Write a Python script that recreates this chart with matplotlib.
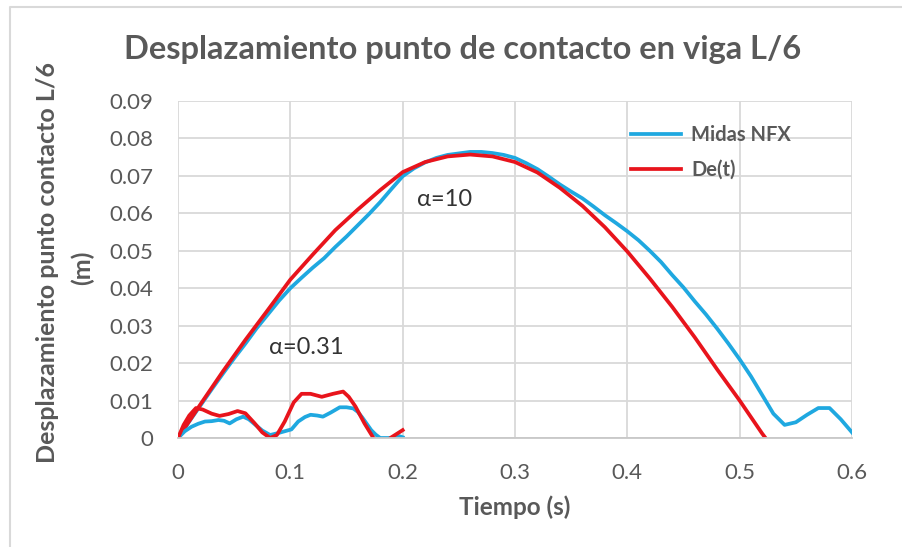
import numpy as np
import matplotlib
matplotlib.use('Agg')
import matplotlib.pyplot as plt
from matplotlib.lines import Line2D

plt.rcParams['font.family'] = ['Lato', 'DejaVu Sans']

# alpha = 10, large curves
t_nfx_10 = [0.00, 0.01, 0.02, 0.03, 0.04, 0.05, 0.06, 0.07, 0.08, 0.09,
            0.10, 0.11, 0.12, 0.13, 0.14, 0.15, 0.16, 0.17, 0.18, 0.19,
            0.20, 0.21, 0.22, 0.23, 0.24, 0.25, 0.26, 0.27, 0.28, 0.29,
            0.30, 0.31, 0.32, 0.33, 0.34, 0.35, 0.36, 0.37, 0.38, 0.39,
            0.40, 0.41, 0.42, 0.43, 0.44, 0.45, 0.46, 0.47, 0.48, 0.49,
            0.50, 0.51, 0.52, 0.53, 0.54, 0.55, 0.56, 0.57, 0.58, 0.59, 0.60]
d_nfx_10 = [0.0, 0.0044, 0.0087, 0.0130, 0.0172, 0.0213, 0.0252, 0.0293, 0.0330, 0.0367,
            0.0400, 0.0428, 0.0455, 0.0480, 0.0510, 0.0538, 0.0568, 0.0598, 0.0630, 0.0665,
            0.0699, 0.0720, 0.0736, 0.0748, 0.0756, 0.0760, 0.0764, 0.0764, 0.0761, 0.0756,
            0.0748, 0.0734, 0.0718, 0.0698, 0.0677, 0.0658, 0.0640, 0.0618, 0.0595, 0.0574,
            0.0552, 0.0528, 0.0500, 0.0470, 0.0435, 0.0402, 0.0365, 0.0330, 0.0292, 0.0252,
            0.0210, 0.0165, 0.0115, 0.0065, 0.0035, 0.0042, 0.0062, 0.0080, 0.0080, 0.0050, 0.0015]

t_de_10 = [0.00, 0.02, 0.04, 0.06, 0.08, 0.10, 0.12, 0.14, 0.16, 0.18,
           0.20, 0.22, 0.24, 0.26, 0.28, 0.30, 0.32, 0.34, 0.36, 0.38,
           0.40, 0.42, 0.44, 0.46, 0.48, 0.50, 0.52, 0.523]
d_de_10 = [0.0, 0.0090, 0.0178, 0.0262, 0.0342, 0.0423, 0.0490, 0.0555, 0.0610, 0.0662,
           0.0710, 0.0737, 0.0752, 0.0757, 0.0752, 0.0737, 0.0709, 0.0668, 0.0620, 0.0563,
           0.0498, 0.0426, 0.0350, 0.0269, 0.0183, 0.0100, 0.0012, 0.0]

# alpha = 0.31, small curves
t_nfx_031 = [0.000, 0.006, 0.012, 0.018, 0.024, 0.030, 0.036, 0.041, 0.046, 0.052,
             0.058, 0.063, 0.069, 0.075, 0.082, 0.089, 0.095, 0.101, 0.107, 0.113,
             0.118, 0.124, 0.129, 0.136, 0.144, 0.150, 0.156, 0.160, 0.164, 0.168,
             0.172, 0.176, 0.180, 0.187, 0.193, 0.197, 0.200]
d_nfx_031 = [0.0, 0.0018, 0.0030, 0.0038, 0.0044, 0.0045, 0.0048, 0.0046, 0.0039, 0.0050,
             0.0057, 0.0050, 0.0035, 0.0020, 0.0008, 0.0013, 0.0018, 0.0023, 0.0044, 0.0056,
             0.0062, 0.0060, 0.0057, 0.0068, 0.0082, 0.0082, 0.0079, 0.0070, 0.0055, 0.0038,
             0.0021, 0.0009, 0.0, 0.0, 0.0001, 0.0005, 0.0002]

t_de_031 = [0.000, 0.005, 0.010, 0.016, 0.022, 0.030, 0.037, 0.045, 0.053, 0.060,
            0.068, 0.075, 0.082, 0.088, 0.095, 0.103, 0.110, 0.118, 0.128, 0.138,
            0.147, 0.152, 0.158, 0.166, 0.174, 0.182, 0.189, 0.200]
d_de_031 = [0.0, 0.0035, 0.0060, 0.0080, 0.0076, 0.0065, 0.0059, 0.0064, 0.0072, 0.0066,
            0.0040, 0.0015, 0.0, 0.0008, 0.0044, 0.0095, 0.0118, 0.0118, 0.0110, 0.0118,
            0.0124, 0.0110, 0.0084, 0.0039, 0.0, -0.0025, 0.0, 0.0021]

xticks = [0, 0.1, 0.2, 0.3, 0.4, 0.5, 0.6]
xticklabels = ['0', '0.1', '0.2', '0.3', '0.4', '0.5', '0.6']
yticks = [0, 0.01, 0.02, 0.03, 0.04, 0.05, 0.06, 0.07, 0.08, 0.09]
yticklabels = ['0', '0.01', '0.02', '0.03', '0.04', '0.05', '0.06', '0.07', '0.08', '0.09']

blue = '#1fa8e0'
red = '#e8141c'
grey = '#595959'

fig = plt.figure(figsize=(9.03, 5.47), dpi=100)
ax = fig.add_axes([178/903, 1-438/547, (852-178)/903, (438-101)/547])

ax.plot(t_nfx_10, d_nfx_10, color=blue, lw=2.7, label='Midas NFX')
ax.plot(t_de_10, d_de_10, color=red, lw=2.7, label='De(t)')
ax.plot(t_nfx_031, d_nfx_031, color=blue, lw=2.7)
ax.plot(t_de_031, d_de_031, color=red, lw=2.7)

ax.set_xlim(0, 0.6)
ax.set_ylim(0, 0.09)
ax.set_xticks(xticks)
ax.set_xticklabels(xticklabels)
ax.set_yticks(yticks)
ax.set_yticklabels(yticklabels)
ax.tick_params(length=0, labelsize=16, labelcolor=grey)
ax.tick_params(axis='y', pad=18)
ax.tick_params(axis='x', pad=18)
ax.grid(True, color='#d9d9d9', lw=1.3)
ax.set_axisbelow(True)
for s in ['top', 'right', 'left']:
  ax.spines[s].set_visible(False)
ax.spines['bottom'].set_color('#c8c8c8')
ax.spines['bottom'].set_linewidth(1.3)

ax.text(0.2377, 0.0636, 'α=10', fontsize=17, color='#333333', ha='center', va='center')
ax.text(0.114, 0.0241, 'α=0.31', fontsize=17, color='#333333', ha='center', va='center')

leg = ax.legend(loc='upper left', bbox_to_anchor=((623-178)/674, 1-(117-101)/337),
                frameon=False, fontsize=14.5, handlelength=2.5, handletextpad=0.5,
                labelspacing=0.75, borderaxespad=0)
for txt in leg.get_texts():
  txt.set_color(grey)
  txt.set_fontweight('bold')

fig.text(463/903, 1-50/547, 'Desplazamiento punto de contacto en viga L/6',
         fontsize=23.5, fontweight='bold', color=grey, ha='center', va='center')
fig.text(515/903, 1-507/547, 'Tiempo (s)', fontsize=17.5, fontweight='bold',
         color=grey, ha='center', va='center')
fig.text(48/903, 1-263/547, 'Desplazamiento punto contacto L/6', fontsize=18,
         fontweight='bold', color=grey, ha='center', va='center', rotation=90)
fig.text(82/903, 1-268/547, '(m)', fontsize=18, fontweight='bold',
         color=grey, ha='center', va='center', rotation=90)

# frame lines on left and top edge
fig.add_artist(Line2D([10/903, 10/903, 1.0], [0.0, 1-7/547, 1-7/547],
                      transform=fig.transFigure, color='#d9d9d9', lw=1.5))

fig.savefig('out.png', dpi=100)
